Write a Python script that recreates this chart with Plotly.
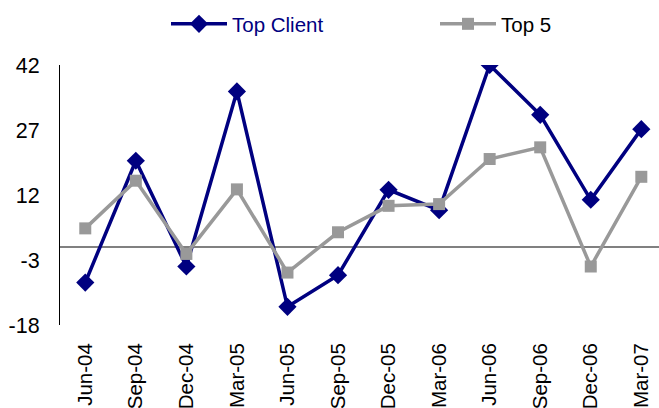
import plotly.graph_objects as go

categories = ["Jun-04", "Sep-04", "Dec-04", "Mar-05", "Jun-05", "Sep-05",
              "Dec-05", "Mar-06", "Jun-06", "Sep-06", "Dec-06", "Mar-07"]
top_client = [-8.2, 19.9, -4.5, 35.9, -13.8, -6.5, 13.2, 8.5, 42.0, 30.5, 10.9, 27.2]
top5 = [4.3, 15.3, -1.6, 13.3, -5.9, 3.4, 9.5, 9.9, 20.3, 23.0, -4.5, 16.2]
y_ticks = [-18, -3, 12, 27, 42]

W, H = 659, 408
FONT = "Liberation Sans, Arial, sans-serif"

fig = go.Figure()
fig.add_trace(go.Scatter(
    x=categories, y=top_client, name="Top Client", mode="lines+markers",
    line=dict(color="#000080", width=3.5),
    marker=dict(symbol="diamond", size=14, color="#000080"),
    legend="legend",
))
fig.add_trace(go.Scatter(
    x=categories, y=top5, name="Top 5", mode="lines+markers",
    line=dict(color="#999999", width=3.5),
    marker=dict(symbol="square", size=12, color="#999999"),
    legend="legend2",
))

fig.update_layout(
    width=W, height=H,
    margin=dict(l=60, r=0, t=65, b=83, autoexpand=False),
    paper_bgcolor="white", plot_bgcolor="white",
    font=dict(family=FONT, size=21, color="black"),
    showlegend=True,
    legend=dict(
        xref="container", yref="container",
        x=166 / W, y=1 - 24 / H, xanchor="left", yanchor="middle",
        orientation="h", itemwidth=56,
        font=dict(family=FONT, size=20.5, color="#000080"),
        bgcolor="rgba(0,0,0,0)",
    ),
    legend2=dict(
        xref="container", yref="container",
        x=435 / W, y=1 - 24 / H, xanchor="left", yanchor="middle",
        orientation="h", itemwidth=56,
        font=dict(family=FONT, size=20.5, color="black"),
        bgcolor="rgba(0,0,0,0)",
    ),
    xaxis=dict(
        type="category", range=[-0.5, 11.35], automargin=False,
        tickangle=-90, showgrid=False, showline=False, zeroline=False,
        ticks="", ticklabelstandoff=13,
        tickfont=dict(family=FONT, size=20.5, color="black"),
    ),
    yaxis=dict(
        range=[-18, 42], tickvals=y_ticks, ticktext=[str(v) for v in y_ticks],
        automargin=False,
        showgrid=False, showline=True, linecolor="black", linewidth=1,
        zeroline=True, zerolinecolor="#808080", zerolinewidth=1.5,
        ticks="", ticklabelstandoff=15,
        tickfont=dict(family=FONT, size=21.5, color="black"),
    ),
)

fig.write_html("out.html")
